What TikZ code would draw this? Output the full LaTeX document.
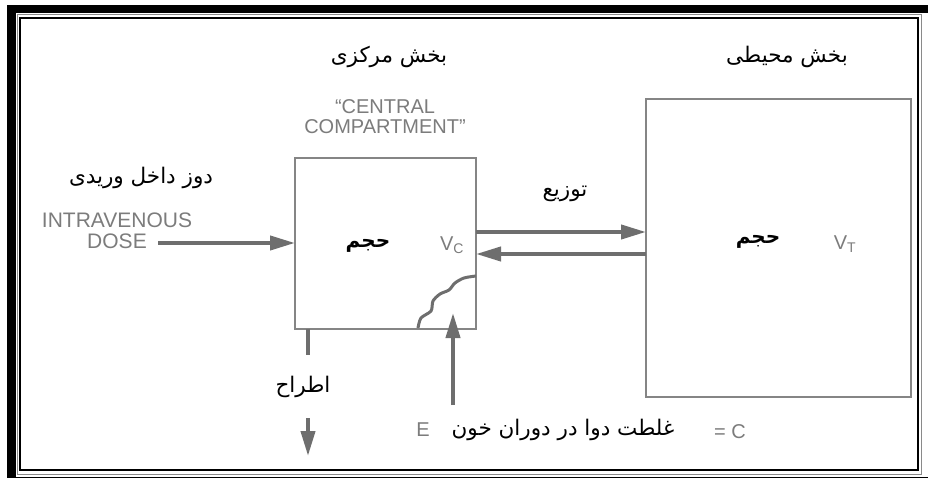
\documentclass[tikz,border=0pt]{standalone}
\usepackage{fontspec}
\setmainfont{Liberation Sans}
\newfontfamily\arabicfont[Script=Arabic]{DejaVu Sans}
\TeXXeTstate=1
\usetikzlibrary{arrows.meta}
\definecolor{flow}{HTML}{6E6E6E}
\definecolor{boxline}{HTML}{858585}
\definecolor{labelgray}{HTML}{7C7C7C}
\definecolor{framegray}{HTML}{8A8A8A}
\newcommand\fa[1]{{\arabicfont\beginR #1\endR}}

\begin{document}
\begin{tikzpicture}[x=1pt,y=-1pt,
  fatext/.style={font=\arabicfont\fontsize{21.5}{24}\selectfont, text=black, inner sep=0},
  fabold/.style={font=\arabicfont\bfseries\fontsize{20}{23}\selectfont, text=black, inner sep=0},
  entext/.style={font=\fontsize{20}{20}\selectfont, text=labelgray, inner sep=0, align=center},
  compbox/.style={draw=boxline, line width=2pt, inner sep=0, outer sep=0},
  flowarrow/.style={draw=flow, line width=4pt, -{Triangle[length=25pt,width=14pt]}},
  flowline/.style={draw=flow, line width=4pt}]

\useasboundingbox (0,0) rectangle (928,478);
\fill[white] (0,0) rectangle (928,478);

% triple border: thick black, thin gray, thin black
\draw[line width=8.5pt] (11.5,9) rectangle (932,481);
\draw[framegray, line width=1pt] (17.5,15) rectangle (921,474);
\draw[line width=2pt] (20,18) rectangle (918,470);

% compartments
\node[compbox, minimum width=181pt, minimum height=170pt] (central) at (385.5,243.5) {};
\node[compbox, minimum width=265pt, minimum height=298pt] (periph) at (778.5,248) {};

% headings
\node[fatext] (hcentral) at (389,57) {\fa{بخش مرکزی}};
\node[fatext] (hperiph) at (787,57) {\fa{بخش محیطی}};
\node[entext] (centralen) at (385,117) {``CENTRAL\\COMPARTMENT''};

% intravenous dose
\node[fatext] (ivfa) at (141,178) {\fa{دوز داخل وریدی}};
\node[entext, font=\fontsize{21}{21}\selectfont] (iven) at (117,231) {INTRAVENOUS\\DOSE};
\coordinate (ivstart) at (158,243);
\draw[flowarrow] (ivstart) -- (central.west |- ivstart);

% volume labels
\node[fabold] (volc) at (368,246) {\fa{حجم}};
\node[entext] (vc) at (452,245) {V\textsubscript{C}};
\node[fabold] (volt) at (758,242) {\fa{حجم}};
\node[entext] (vt) at (845,244) {V\textsubscript{T}};

% distribution arrows
\node[fatext] (distr) at (565,194) {\fa{توزیع}};
\coordinate (outy) at (0,232);
\coordinate (iny) at (0,254);
\draw[flowarrow] (central.east |- outy) -- (periph.west |- outy);
\draw[flowarrow] (periph.west |- iny) -- (central.east |- iny);

% blood boundary inside the central compartment
\draw[draw=flow, line width=3pt, line join=round]
  plot[smooth] coordinates {(418,328) (421,318) (431,311) (433,301) (440,294) (449,290) (455,283) (464,278) (476,276)};

% elimination
\coordinate (elimx) at (308,0);
\coordinate (elimmid) at (308,355);
\coordinate (elimtop) at (308,418);
\coordinate (elimend) at (308,456);
\draw[flowline] (central.south -| elimx) -- (elimmid);
\node[fatext] (elim) at (303,387) {\fa{اطراح}};
\draw[flowarrow] (elimtop) -- (elimend);

% blood concentration
\coordinate (bloodstart) at (453,405);
\coordinate (bloodend) at (453,313);
\draw[flowarrow] (bloodstart) -- (bloodend);
\node[entext] (econ) at (423,430) {E};
\node[fatext] (conc) at (563,430) {\fa{غلطت دوا در دوران خون}};
\node[entext] (ceq) at (730,432) {= C};
\end{tikzpicture}
\end{document}
